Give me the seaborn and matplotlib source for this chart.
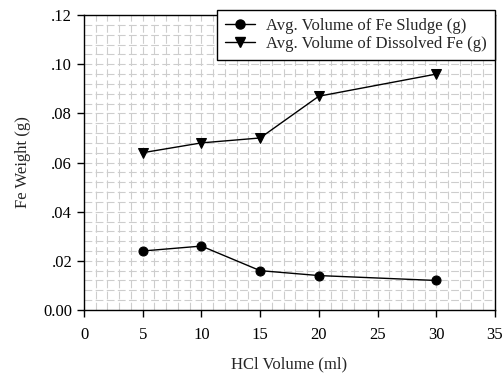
import pandas as pd
import matplotlib
matplotlib.use("Agg")
import matplotlib.pyplot as plt
import seaborn as sns
from matplotlib.ticker import MultipleLocator, FuncFormatter

hcl_volume = [5, 10, 15, 20, 30]
fe_sludge = [0.024, 0.026, 0.016, 0.014, 0.012]
fe_dissolved = [0.064, 0.068, 0.070, 0.087, 0.096]
series_names = ["Avg. Volume of Fe Sludge (g)", "Avg. Volume of Dissolved Fe (g)"]

df = pd.DataFrame({
    "HCl Volume (ml)": hcl_volume * 2,
    "Fe Weight (g)": fe_sludge + fe_dissolved,
    "series": [series_names[0]] * 5 + [series_names[1]] * 5,
})

sns.set_style("ticks")
plt.rcParams["font.family"] = ["Liberation Serif", "DejaVu Serif"]

fig = plt.figure(figsize=(5.03, 3.78), dpi=100)
ax = fig.add_axes([0.167, 0.180, 0.817, 0.780])

# background grid, light gray dashed
ax.xaxis.set_major_locator(MultipleLocator(5))
ax.xaxis.set_minor_locator(MultipleLocator(1))
ax.yaxis.set_major_locator(MultipleLocator(0.02))
ax.yaxis.set_minor_locator(MultipleLocator(0.004))
ax.grid(True, which="both", color="#cdcdcd", linestyle=(0, (7, 3)), linewidth=0.8)
ax.set_axisbelow(True)

sns.lineplot(data=df, x="HCl Volume (ml)", y="Fe Weight (g)", hue="series",
             style="series", markers=["o", "v"], dashes=False,
             palette=["black", "black"], markersize=6.5, linewidth=1,
             markeredgecolor="black", ax=ax, legend=False)

ax.set_xlim(0, 35)
ax.set_ylim(0, 0.12)
ax.yaxis.set_major_formatter(FuncFormatter(lambda v, p: "0.00" if abs(v) < 1e-9 else f"{v:.2f}".lstrip("0")))
ax.tick_params(axis="both", which="major", direction="out", length=5, width=1,
               labelsize=12, top=False, right=False, colors="black")
ax.tick_params(axis="x", which="major", pad=7)
ax.tick_params(axis="both", which="minor", length=0)
ax.set_xlabel("HCl Volume (ml)", fontsize=12, labelpad=10)
ax.set_ylabel("Fe Weight (g)", fontsize=12, labelpad=9)
for sp in ax.spines.values():
    sp.set_visible(True)
    sp.set_color("black")
    sp.set_linewidth(1)

handles = [
    plt.Line2D([], [], color="black", marker="o", markersize=6.5, lw=1),
    plt.Line2D([], [], color="black", marker="v", markersize=6.5, lw=1),
]
leg = fig.legend(handles, series_names, loc="upper right",
                 bbox_to_anchor=(1.0, 0.995), fontsize=12, frameon=True,
                 fancybox=False, framealpha=1, edgecolor="black",
                 handlelength=1.8, borderpad=0.45, labelspacing=0.15,
                 handletextpad=0.7)
leg.get_frame().set_linewidth(1)

fig.savefig("out.png", dpi=100)
